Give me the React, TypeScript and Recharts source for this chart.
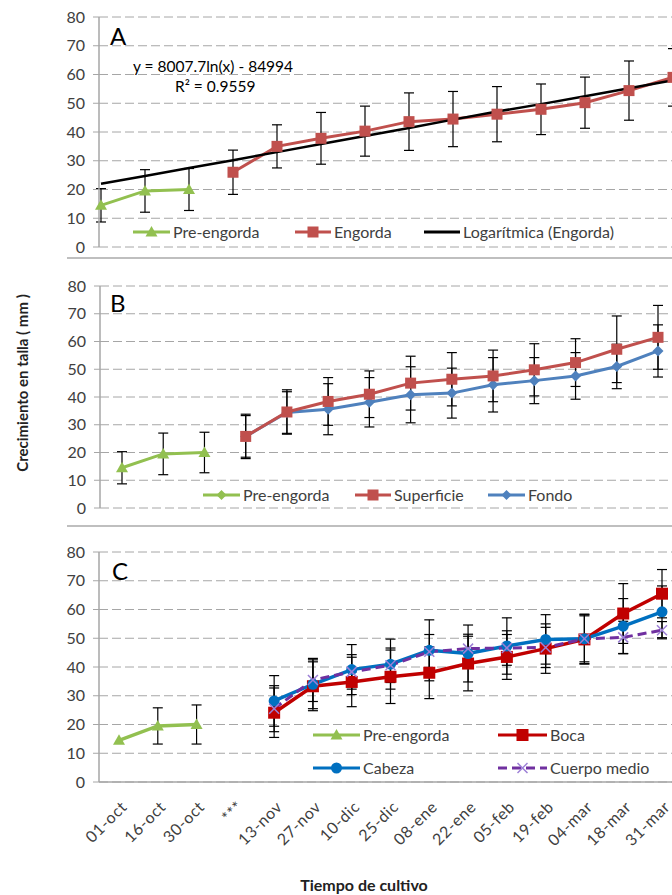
import React from 'react';
import { LineChart, Line, XAxis, YAxis, CartesianGrid, ErrorBar } from 'recharts';

const catsAB = ['01-oct', '16-oct', '30-oct', '13-nov', '27-nov', '10-dic', '25-dic', '08-ene', '22-ene', '05-feb', '19-feb', '04-mar', '18-mar', '31-mar'];
const catsC = ['01-oct', '16-oct', '30-oct', '***', '13-nov', '27-nov', '10-dic', '25-dic', '08-ene', '22-ene', '05-feb', '19-feb', '04-mar', '18-mar', '31-mar'];
const yTicks = [0, 10, 20, 30, 40, 50, 60, 70, 80];

// panel A
const preA = [14.5, 19.5, 20, null, null, null, null, null, null, null, null, null, null, null];
const preAErr = [5.8, 7.4, 7.3, null, null, null, null, null, null, null, null, null, null, null];
const engA = [null, null, null, 26, 35, 37.8, 40.3, 43.6, 44.5, 46.2, 47.9, 50.2, 54.4, 59];
const engAErr = [null, null, null, 7.7, 7.5, 9, 8.7, 10, 9.6, 9.6, 8.8, 8.9, 10.3, 10];
const trendA = [22, 24.7, 27.5, 30.2, 33, 35.8, 38.6, 41.4, 44.3, 47.1, 49.7, 52.4, 55.2, 58];

// panel B
const preB = [14.5, 19.5, 20, null, null, null, null, null, null, null, null, null, null, null];
const preBErr = [5.8, 7.5, 7.3, null, null, null, null, null, null, null, null, null, null, null];
const supB = [null, null, null, 25.8, 34.6, 38.4, 41, 45, 46.4, 47.6, 49.8, 52.4, 57.2, 61.5];
const supBErr = [null, null, null, 8, 8, 8.6, 8.4, 9.7, 9.6, 9.3, 9.4, 8.6, 12, 11.5];
const fonB = [null, null, null, 25.8, 34.4, 35.6, 38.1, 40.8, 41.4, 44.4, 45.9, 47.6, 51, 56.6];
const fonBErr = [null, null, null, 7.5, 7.5, 9.2, 8.9, 10.1, 9, 9.8, 8.3, 8.4, 8, 9.4];

// panel C
const preC = [14.5, 19.5, 20, null, null, null, null, null, null, null, null, null, null, null, null];
const preCErr = [null, 6.3, 6.8, null, null, null, null, null, null, null, null, null, null, null, null];
const bocaC = [null, null, null, null, 24.1, 33.3, 34.8, 36.6, 38, 41.2, 43.5, 46.4, 49.6, 58.6, 65.5];
const bocaCErr = [null, null, null, null, 8.6, 8.5, 8.6, 9.3, 9, 9.5, 7.8, 8.6, 8.6, 10.4, 8.4];
const cabC = [null, null, null, null, 28.2, 34, 39.1, 41, 45.8, 44.7, 47.3, 49.6, 49.8, 54.2, 59.2];
const cabCErr = [null, null, null, null, 8.8, 8.5, 8.7, 8.7, 10.6, 9.9, 9.8, 8.6, 8.6, 9.6, 9];
const cueC = [null, null, null, null, 25.5, 35.5, 38.3, 40.6, 45.3, 46.4, 46.6, 46.8, 49.8, 50.3, 52.8];
const cueCErr = [null, null, null, null, 8, 7.5, 6, 6, 6, 5, 6, 7, 8, 5.6, 3];

const dataA = catsAB.map((cat, i) => ({ cat, pre: preA[i], preErr: preAErr[i], eng: engA[i], engErr: engAErr[i], trend: trendA[i] }));
const dataB = catsAB.map((cat, i) => ({ cat, pre: preB[i], preErr: preBErr[i], sup: supB[i], supErr: supBErr[i], fon: fonB[i], fonErr: fonBErr[i] }));
const dataC = catsC.map((cat, i) => ({
  cat, pre: preC[i], preErr: preCErr[i], boca: bocaC[i], bocaErr: bocaCErr[i],
  cab: cabC[i], cabErr: cabCErr[i], cue: cueC[i], cueErr: cueCErr[i],
}));

const FONT = 'Lato, "Open Sans", sans-serif';
const GREEN = '#92C050';
const RED = '#C0504D';
const BLUE = '#4F81BD';
const DRED = '#C00000';
const DBLUE = '#0070C0';
const PURPLE = '#7030A0';
const GRID = '#A6A6A6';
const TXT = '#404040';

function Marker({ shape, cx, cy, size, color }: any) {
  const h = size / 2;
  if (shape === 'triangle')
    return <polygon points={`${cx},${cy - h} ${cx + h},${cy + h * 0.75} ${cx - h},${cy + h * 0.75}`} fill={color} />;
  if (shape === 'square') return <rect x={cx - h} y={cy - h} width={size} height={size} fill={color} />;
  if (shape === 'diamond')
    return <polygon points={`${cx},${cy - h} ${cx + h},${cy} ${cx},${cy + h} ${cx - h},${cy}`} fill={color} />;
  if (shape === 'circle') return <circle cx={cx} cy={cy} r={h} fill={color} />;
  return (
    <g stroke={color} strokeWidth={1.5}>
      <line x1={cx - h} y1={cy - h} x2={cx + h} y2={cy + h} />
      <line x1={cx - h} y1={cy + h} x2={cx + h} y2={cy - h} />
    </g>
  );
}

const dot = (shape: string, size: number, color: string) => (p: any) => {
  if (p.cy == null || Number.isNaN(p.cy) || p.value == null) return <g key={`e-${p.index}`} />;
  return (
    <g key={`d-${p.index}`}>
      <Marker shape={shape} cx={p.cx} cy={p.cy} size={size} color={color} />
    </g>
  );
};

function LegendItem({ x, y, w, color, shape, size, dash, markColor, label }: any) {
  return (
    <div style={{ position: 'absolute', left: x, top: y - 10, height: 20, display: 'flex', alignItems: 'center', whiteSpace: 'nowrap' }}>
      <svg width={w} height={20}>
        <line x1={0} y1={10} x2={w} y2={10} stroke={color} strokeWidth={3} strokeDasharray={dash} />
        {shape && <Marker shape={shape} cx={w / 2} cy={10} size={size} color={markColor || color} />}
      </svg>
      <span style={{ marginLeft: 3, fontSize: 16, color: TXT, lineHeight: '20px' }}>{label}</span>
    </div>
  );
}

const SlantTick = (p: any) => {
  const ax = p.x + 9;
  const ay = p.y + 26;
  return (
    <text x={ax} y={ay} textAnchor="end" transform={`rotate(-45 ${ax} ${ay})`} fontSize={16} fill={TXT} fontFamily={FONT} letterSpacing={0.6}>
      {p.payload.value}
    </text>
  );
};

const yAxisProps = {
  domain: [0, 80] as [number, number],
  ticks: yTicks,
  interval: 0 as const,
  tickSize: 6,
  tickMargin: 8,
  axisLine: { stroke: GRID, strokeWidth: 1.5 },
  tickLine: { stroke: GRID },
  tick: { fontSize: 16, fill: TXT, fontFamily: FONT },
};

const Sep = ({ top }: { top: number }) => (
  <div style={{ position: 'absolute', left: 67, top, width: 610, height: 2, background: '#BFBFBF' }} />
);

const Letter = ({ x, y, t }: any) => (
  <div style={{ position: 'absolute', left: x, top: y, fontSize: 24, lineHeight: '24px', color: '#000' }}>{t}</div>
);

export default function App() {
  return (
    <div style={{ position: 'absolute', left: 0, top: 0, width: 672, height: 895, overflow: 'hidden', background: '#fff', fontFamily: FONT }}>
      {/* Panel A */}
      <div style={{ position: 'absolute', left: 0, top: 0 }}>
        <LineChart width={720} height={258} data={dataA} margin={{ top: 17, right: 0, bottom: 11, left: 0 }}>
          <CartesianGrid vertical={false} stroke={GRID} strokeDasharray="9 4" />
          <XAxis dataKey="cat" hide padding={{ left: 2, right: 47 }} />
          <YAxis width={99} {...yAxisProps} />
          <Line dataKey="pre" stroke={GREEN} strokeWidth={3} dot={dot('triangle', 12, GREEN)} activeDot={false} isAnimationActive={false}>
            <ErrorBar dataKey="preErr" width={5} stroke="#000" strokeWidth={1.2} />
          </Line>
          <Line dataKey="eng" stroke={RED} strokeWidth={3} dot={dot('square', 11, RED)} activeDot={false} isAnimationActive={false}>
            <ErrorBar dataKey="engErr" width={5} stroke="#000" strokeWidth={1.2} />
          </Line>
          <Line dataKey="trend" stroke="#000" strokeWidth={2.5} dot={false} activeDot={false} isAnimationActive={false} />
        </LineChart>
      </div>
      <Letter x={110} y={24} t="A" />
      <div style={{ position: 'absolute', left: 133, top: 56, fontSize: 15.5, lineHeight: '20px', color: '#000', whiteSpace: 'nowrap' }}>
        y = 8007.7ln(x) - 84994
      </div>
      <div style={{ position: 'absolute', left: 175, top: 76, fontSize: 15.5, lineHeight: '20px', color: '#000', whiteSpace: 'nowrap' }}>
        R² = 0.9559
      </div>
      <LegendItem x={133} y={232} w={37} color={GREEN} shape="triangle" size={12} label="Pre-engorda" />
      <LegendItem x={295} y={232} w={36} color={RED} shape="square" size={11} label="Engorda" />
      <LegendItem x={424} y={232} w={36} color="#000" label="Logarítmica (Engorda)" />
      <Sep top={257} />

      {/* Panel B */}
      <div style={{ position: 'absolute', left: 0, top: 260 }}>
        <LineChart width={720} height={266} data={dataB} margin={{ top: 26, right: 0, bottom: 18, left: 0 }}>
          <CartesianGrid vertical={false} stroke={GRID} strokeDasharray="9 4" />
          <XAxis dataKey="cat" hide padding={{ left: 22, right: 62 }} />
          <YAxis width={100} {...yAxisProps} />
          <Line dataKey="pre" stroke={GREEN} strokeWidth={3} dot={dot('triangle', 12, GREEN)} activeDot={false} isAnimationActive={false}>
            <ErrorBar dataKey="preErr" width={5} stroke="#000" strokeWidth={1.2} />
          </Line>
          <Line dataKey="fon" stroke={BLUE} strokeWidth={3} dot={dot('diamond', 11, BLUE)} activeDot={false} isAnimationActive={false}>
            <ErrorBar dataKey="fonErr" width={5} stroke="#000" strokeWidth={1.2} />
          </Line>
          <Line dataKey="sup" stroke={RED} strokeWidth={3} dot={dot('square', 11, RED)} activeDot={false} isAnimationActive={false}>
            <ErrorBar dataKey="supErr" width={5} stroke="#000" strokeWidth={1.2} />
          </Line>
        </LineChart>
      </div>
      <Letter x={110} y={291} t="B" />
      <LegendItem x={203} y={495} w={37} color={GREEN} shape="diamond" size={10} label="Pre-engorda" />
      <LegendItem x={355} y={495} w={36} color={RED} shape="square" size={11} label="Superficie" />
      <LegendItem x={488} y={495} w={37} color={BLUE} shape="diamond" size={10} label="Fondo" />
      <Sep top={525} />

      {/* Panel C */}
      <div style={{ position: 'absolute', left: 0, top: 527 }}>
        <LineChart width={720} height={368} data={dataC} margin={{ top: 25, right: 0, bottom: 0, left: 0 }}>
          <CartesianGrid vertical={false} stroke={GRID} strokeDasharray="9 4" />
          <XAxis
            dataKey="cat"
            height={113}
            interval={0}
            padding={{ left: 20, right: 58 }}
            axisLine={{ stroke: GRID, strokeWidth: 1.5 }}
            tickLine={false}
            tickSize={0}
            tickMargin={0}
            tick={<SlantTick />}
          />
          <YAxis width={99} {...yAxisProps} />
          <Line dataKey="pre" stroke={GREEN} strokeWidth={3.5} dot={dot('triangle', 12, GREEN)} activeDot={false} isAnimationActive={false}>
            <ErrorBar dataKey="preErr" width={5} stroke="#000" strokeWidth={1.2} />
          </Line>
          <Line dataKey="boca" stroke={DRED} strokeWidth={3.5} dot={dot('square', 12, DRED)} activeDot={false} isAnimationActive={false}>
            <ErrorBar dataKey="bocaErr" width={5} stroke="#000" strokeWidth={1.2} />
          </Line>
          <Line dataKey="cab" stroke={DBLUE} strokeWidth={3.5} dot={dot('circle', 11, DBLUE)} activeDot={false} isAnimationActive={false}>
            <ErrorBar dataKey="cabErr" width={5} stroke="#000" strokeWidth={1.2} />
          </Line>
          <Line dataKey="cue" stroke={PURPLE} strokeWidth={3} strokeDasharray="9 5" dot={dot('x', 10, '#9C7FD6')} activeDot={false} isAnimationActive={false}>
            <ErrorBar dataKey="cueErr" width={5} stroke="#000" strokeWidth={1.2} />
          </Line>
        </LineChart>
      </div>
      <Letter x={112} y={559} t="C" />
      <LegendItem x={313} y={735} w={47} color={GREEN} shape="triangle" size={12} label="Pre-engorda" />
      <LegendItem x={498} y={735} w={49} color={DRED} shape="square" size={12} label="Boca" />
      <LegendItem x={313} y={768} w={47} color={DBLUE} shape="circle" size={11} label="Cabeza" />
      <LegendItem x={498} y={768} w={49} color={PURPLE} shape="x" size={10} dash="9 5" markColor="#9C7FD6" label="Cuerpo medio" />

      {/* axis titles */}
      <div
        style={{
          position: 'absolute', left: 22 - 140, top: 383 - 10, width: 280, height: 20, lineHeight: '20px',
          textAlign: 'center', transform: 'rotate(-90deg)', fontSize: 15, fontWeight: 700, color: '#222', whiteSpace: 'nowrap',
        }}
      >
        Crecimiento en talla ( mm )
      </div>
      <div style={{ position: 'absolute', left: 264, top: 875, width: 200, textAlign: 'center', fontSize: 16, fontWeight: 700, lineHeight: '20px', color: '#222' }}>
        Tiempo de cultivo
      </div>
    </div>
  );
}
